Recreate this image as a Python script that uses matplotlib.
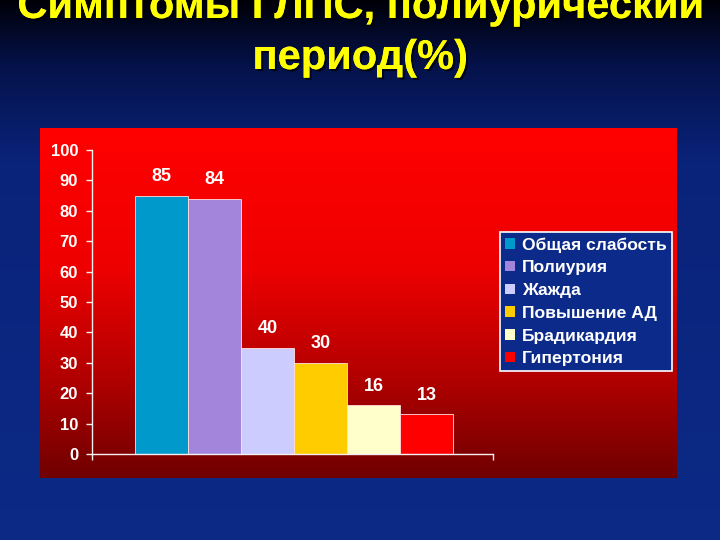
import numpy as np
import matplotlib
matplotlib.use("Agg")
import matplotlib.pyplot as plt
from matplotlib.patches import Patch
from matplotlib.colors import LinearSegmentedColormap
import matplotlib.patheffects as pe

categories = ['Общая слабость', 'Полиурия', 'Жажда', 'Повышение АД', 'Брадикардия', 'Гипертония']
values = [85, 84, 35, 30, 16, 13]
value_labels = ['85', '84', '40', '30', '16', '13']
colors = ['#0099CC', '#A385DB', '#CCCCFF', '#FFCC00', '#FFFFCC', '#FF0000']
yticks = [0, 10, 20, 30, 40, 50, 60, 70, 80, 90, 100]
title_lines = ['Симптомы ГЛПС, полиурический', 'период(%)']

W, H = 720, 540
fig = plt.figure(figsize=(7.2, 5.4), dpi=100)

# slide background gradient
bg = fig.add_axes([0, 0, 1, 1])
bg.set_axis_off()
bcmap = LinearSegmentedColormap.from_list('b', [(0, '#000008'), (0.12, '#05124a'), (0.3, '#0a237a'), (1, '#0c2a86')])
bg.imshow(np.linspace(0, 1, 256).reshape(-1, 1), aspect='auto', cmap=bcmap, extent=[0, 1, 0, 1], origin='upper')
bg.set_xlim(0, 1); bg.set_ylim(0, 1)

# red panel
px0, px1, py0, py1 = 40, 677, 128, 478
panel = fig.add_axes([px0 / W, 1 - py1 / H, (px1 - px0) / W, (py1 - py0) / H])
panel.set_axis_off()
rcmap = LinearSegmentedColormap.from_list('r', [(0, '#FF0000'), (0.4, '#EE0000'), (0.72, '#B00000'), (1, '#700000')])
panel.imshow(np.linspace(0, 1, 256).reshape(-1, 1), aspect='auto', cmap=rcmap, extent=[0, 1, 0, 1], origin='upper')

# title
title_family = ['Liberation Sans', 'DejaVu Sans']
for i, line in enumerate(title_lines):
    fig.text(0.5, 1 - (18 + 51 * i) / H, line, ha='center', va='baseline', color='#FFFF00',
             fontsize=30, fontweight='bold', family=title_family,
             path_effects=[pe.withSimplePatchShadow(offset=(1.5, -1.5), shadow_rgbFace='black', alpha=0.7), pe.Normal()])

# main axes
ax0, ax1, ay0, ay1 = 92, 493, 454, 150
ax = fig.add_axes([ax0 / W, 1 - ay0 / H, (ax1 - ax0) / W, (ay0 - ay1) / H])
ax.patch.set_alpha(0)
x = np.arange(len(values))
bars = ax.bar(x, values, width=1.0, color=colors, edgecolor='#FFE0E0', linewidth=0.6)
ax.set_xlim(-1.31, 6.25)
ax.set_ylim(0, 100)
ax.set_yticks(yticks)
ax.set_yticklabels([str(t) for t in yticks])
ax.set_xticks([-1.31, 6.25])
ax.set_xticklabels(['', ''])
for s in ['top', 'right']:
    ax.spines[s].set_visible(False)
for s in ['left', 'bottom']:
    ax.spines[s].set_color('#F5F0F0')
    ax.spines[s].set_linewidth(1.0)
ax.tick_params(axis='both', colors='#F5F0F0', length=4, width=1, direction='out')
ax.tick_params(axis='y', labelcolor='white', labelsize=12, pad=6)
for lab in ax.get_yticklabels():
    lab.set_fontweight('bold')
    lab.set_family('Liberation Sans')

for xi, v, lab in zip(x, values, value_labels):
    ax.annotate(lab, (xi, v), xytext=(0, 7.5), textcoords='offset points', ha='center', va='bottom',
                color='white', fontsize=13, fontweight='bold', family='Liberation Sans')

# legend
handles = [Patch(facecolor=c, edgecolor='none') for c in colors]
lx0, ly0 = 500, 232
leg = fig.legend(handles, categories, loc='upper left', bbox_to_anchor=(lx0 / W, 1 - ly0 / H),
                 frameon=True, fancybox=False, facecolor='#0B2A8A', edgecolor='white', framealpha=1,
                 prop={'family': 'Liberation Sans', 'weight': 'bold', 'size': 12.6},
                 handlelength=0.55, handleheight=0.55, handletextpad=0.4, labelspacing=0.44,
                 borderpad=0.3, borderaxespad=0, labelcolor='white')
leg.get_frame().set_linewidth(1.2)

fig.savefig('out.png', dpi=100)
